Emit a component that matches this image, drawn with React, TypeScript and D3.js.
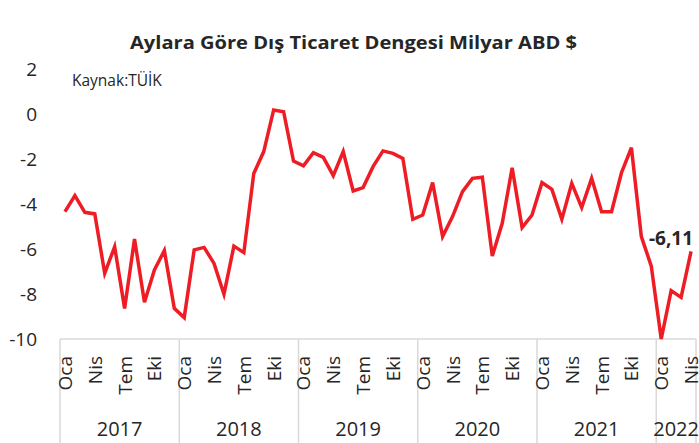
import * as d3 from "d3";
import React from "react";

// monthly foreign trade balance, billion USD, Jan 2017 - Apr 2022
const values2017 = [-4.34, -3.63, -4.37, -4.44, -7.08, -5.9, -8.64, -5.56, -8.37, -6.93, -6.07, -8.64];
const values2018 = [-9.05, -6.04, -5.93, -6.64, -8.01, -5.87, -6.16, -2.64, -1.67, 0.18, 0.1, -2.09];
const values2019 = [-2.3, -1.72, -1.93, -2.74, -1.67, -3.42, -3.27, -2.34, -1.64, -1.75, -1.97, -4.68];
const values2020 = [-4.49, -3.05, -5.45, -4.56, -3.45, -2.86, -2.81, -6.31, -4.86, -2.39, -5.05, -4.49];
const values2021 = [-3.05, -3.35, -4.68, -3.08, -4.16, -2.86, -4.34, -4.34, -2.61, -1.5, -5.45, -6.76];
const values2022 = [-10.0, -7.85, -8.15, -6.11];

const years = ["2017", "2018", "2019", "2020", "2021", "2022"];
const monthLabels = ["Oca", "", "", "Nis", "", "", "Tem", "", "", "Eki", "", ""];
const yTicks = [2, 0, -2, -4, -6, -8, -10];
const lastLabel = "-6,11";

const values = [...values2017, ...values2018, ...values2019, ...values2020, ...values2021, ...values2022];
const yearLengths = [12, 12, 12, 12, 12, values2022.length];

const FONT = "'Open Sans', sans-serif";

const App: React.FC = () => {
  const width = 699;
  const height = 443;
  const margin = { left: 60, right: 3, top: 69, bottom: 104 };

  const x = d3
    .scaleLinear()
    .domain([0, values.length])
    .range([margin.left, width - margin.right]);
  const y = d3
    .scaleLinear()
    .domain([-10, 2])
    .range([height - margin.bottom, margin.top]);

  const line = d3
    .line<number>()
    .x((d, i) => x(i + 0.5))
    .y((d) => y(Math.max(d, -10)));

  const starts: number[] = [];
  let acc = 0;
  yearLengths.forEach((n) => {
    starts.push(acc);
    acc += n;
  });

  const axisY = y(-10);
  const last = values.length - 1;

  return (
    <svg
      width={width}
      height={height}
      style={{ position: "absolute", left: 0, top: 0, background: "#fff" }}
    >
      <text
        x={130}
        y={49}
        textLength={447}
        lengthAdjust="spacingAndGlyphs"
        fontFamily={FONT}
        fontWeight="bold"
        fontSize={18.5}
        fill="#262626"
      >
        Aylara Göre Dış Ticaret Dengesi Milyar ABD $
      </text>
      <text x={72} y={86} fontFamily={FONT} fontSize={15.5} fill="#262626">
        Kaynak:TÜİK
      </text>

      {yTicks.map((t) => (
        <text
          key={t}
          x={37}
          y={y(t)}
          textAnchor="end"
          dominantBaseline="central"
          fontFamily={FONT}
          fontSize={19}
          fill="#262626"
        >
          {t}
        </text>
      ))}

      <line x1={margin.left} x2={width - margin.right} y1={axisY} y2={axisY} stroke="#d9d9d9" strokeWidth={1.5} />
      {[...starts, values.length].map((s) => (
        <line key={s} x1={x(s)} x2={x(s)} y1={axisY} y2={height} stroke="#d9d9d9" strokeWidth={1.5} />
      ))}

      {values.map((v, i) =>
        monthLabels[i % 12] ? (
          <text
            key={i}
            transform={`translate(${x(i + 0.5)},${356}) rotate(-90)`}
            textAnchor="end"
            dominantBaseline="central"
            fontFamily={FONT}
            fontSize={19}
            fill="#262626"
          >
            {monthLabels[i % 12]}
          </text>
        ) : null
      )}

      {years.map((yr, k) => (
        <text
          key={yr}
          x={x(starts[k] + yearLengths[k] / 2)}
          y={436}
          textAnchor="middle"
          fontFamily={FONT}
          fontSize={20}
          fill="#262626"
        >
          {yr}
        </text>
      ))}

      <path d={line(values) || ""} fill="none" stroke="#ee1c25" strokeWidth={3.5} strokeLinejoin="miter" />

      <text
        x={x(last + 0.5) + 2}
        y={y(values[last]) - 6}
        textAnchor="end"
        fontFamily={FONT}
        fontWeight="bold"
        fontSize={19}
        fill="#262626"
      >
        {lastLabel}
      </text>
    </svg>
  );
};

export default App;
